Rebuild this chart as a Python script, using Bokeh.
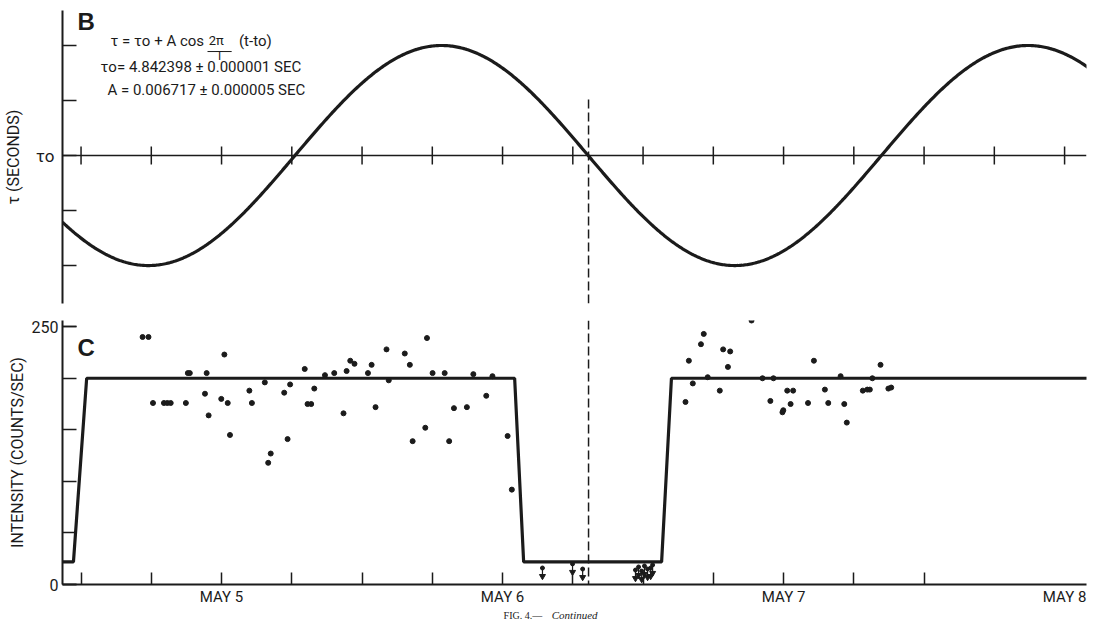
import numpy as np
from bokeh.plotting import figure
from bokeh.layouts import column
from bokeh.models import (Range1d, LinearAxis, FixedTicker, Span, Label,
                          CustomJSTickFormatter)
from bokeh.embed import file_html
from bokeh.resources import INLINE

# ---------------- data ----------------
day_ticks = [5, 6, 7, 8]
day_labels = ["MAY 5", "MAY 6", "MAY 7", "MAY 8"]
top_quarter_ticks = [4.5, 4.75, 5.0, 5.25, 5.5, 5.75, 6.0, 6.25, 6.5, 6.75,
                     7.0, 7.25, 7.5, 7.75, 8.0]
bottom_quarter_ticks = [4.5, 4.75, 5.0, 5.25, 5.5, 5.75, 6.0, 6.25, 6.5, 6.75,
                        7.0, 7.25, 7.5]
intensity_ticks = [0, 250]
intensity_minor_ticks = [0, 50, 100, 150, 200, 250]

tau0 = 4.842398          # s
tau0_err = 0.000001
amp = 0.006717           # s
amp_err = 0.000005
period = 2.087           # days
t_max = 5.783            # day of maximum delay (t0)
t_mid_eclipse = 6.306    # dashed line

step_t = [4.434, 4.473, 4.520, 6.043, 6.075, 6.566, 6.601, 8.2]
step_i = [22, 22, 200, 200, 22, 22, 200, 200]

obs_t = [4.719, 4.740, 4.756, 4.795, 4.807, 4.819, 4.873, 4.880, 4.887, 4.941,
         4.947, 4.954, 4.999, 5.010, 5.022, 5.030, 5.099, 5.108, 5.154, 5.166,
         5.175, 5.223, 5.235, 5.244, 5.296, 5.306, 5.319, 5.330, 5.368, 5.401,
         5.434, 5.445, 5.458, 5.473, 5.521, 5.534, 5.548, 5.587, 5.595, 5.652,
         5.670, 5.680, 5.725, 5.731, 5.751, 5.794, 5.810, 5.827, 5.873, 5.896,
         5.942, 5.964, 6.018, 6.033,
         6.651, 6.663, 6.677, 6.706, 6.716, 6.730, 6.773, 6.785, 6.802, 6.810,
         6.848, 6.886, 6.925, 6.953, 6.964, 6.996, 6.999, 7.013, 7.025, 7.034,
         7.087, 7.108, 7.147, 7.159, 7.203, 7.216, 7.225, 7.282, 7.298, 7.307,
         7.316, 7.345, 7.373, 7.383]
obs_i = [240, 240, 176, 176, 176, 176, 176, 205, 205, 185,
         205, 164, 180, 223, 176, 145, 188, 176, 196, 118,
         127, 186, 141, 194, 209, 175, 175, 190, 203, 205,
         166, 207, 217, 214, 205, 213, 172, 228, 198, 224,
         213, 139, 152, 239, 205, 205, 139, 171, 172, 204,
         183, 202, 144, 92,
         177, 217, 195, 233, 243, 201, 188, 228, 211, 226,
         263, 256, 200, 178, 200, 167, 169, 188, 175, 188,
         176, 217, 189, 176, 202, 175, 157, 188, 189, 189,
         200, 213, 190, 191]

ul_t = [6.142, 6.249, 6.285, 6.473, 6.484, 6.495, 6.505, 6.516, 6.527, 6.534]
ul_i = [16, 20, 15, 14, 17, 13, 18, 15, 16, 19]

# ---------------- styling ----------------
INK = "#1b1b1b"
FONT = "Roboto"
x_start, x_end = 4.434, 8.078
W = 1094
LB, RB = 54, 8

# ---------------- top panel (B) ----------------
top = figure(width=W, height=313,
             x_range=Range1d(x_start, x_end),
             y_range=Range1d(-1.345 * amp, 1.318 * amp),
             x_axis_type=None, y_axis_type=None,
             toolbar_location=None, output_backend="svg",
             min_border_left=LB, min_border_right=RB,
             min_border_top=10, min_border_bottom=10)
top.outline_line_color = None

ly = LinearAxis(ticker=FixedTicker(ticks=[-amp, -amp / 2, 0, amp / 2, amp]),
                axis_label="τ (SECONDS)")
ly.formatter = CustomJSTickFormatter(code="return Math.abs(tick) < 1e-12 ? 'τo' : ''")
ly.axis_line_color = INK
ly.axis_line_width = 2
ly.major_tick_line_color = INK
ly.major_tick_line_width = 1.5
ly.major_tick_in = 14
ly.major_tick_out = 0
ly.minor_tick_line_color = None
ly.major_label_text_font = FONT
ly.major_label_text_font_size = "17px"
ly.major_label_text_color = INK
ly.major_label_standoff = 8
ly.axis_label_text_font = FONT
ly.axis_label_text_font_size = "16px"
ly.axis_label_text_font_style = "normal"
ly.axis_label_text_color = INK
ly.axis_label_standoff = 10
top.add_layout(ly, "left")

# horizontal tau0 reference line with its quarter-day ticks
top.add_layout(Span(location=0, dimension="width", line_color=INK, line_width=1.5))
top.scatter(top_quarter_ticks, [0] * len(top_quarter_ticks), marker="dash",
            angle=np.pi / 2, size=18, line_color=INK, line_width=1.5)

t_curve = np.linspace(x_start, x_end + 0.05, 800)
dtau_curve = amp * np.cos(2 * np.pi / period * (t_curve - t_max))
top.line(t_curve, dtau_curve, line_color=INK, line_width=3.2)

top.segment(x0=[t_mid_eclipse], y0=[-1.345 * amp], x1=[t_mid_eclipse], y1=[0.53 * amp],
            line_color=INK, line_width=1.5, line_dash="9 4")

top.add_layout(Label(x=4.4875, y=1.091 * amp, text="B", text_font="Liberation Sans",
                     text_font_size="24px", text_font_style="bold", text_color=INK))
top.add_layout(Label(x=4.605, y=0.959 * amp, text="τ = τo + A cos", text_font=FONT,
                     text_font_size="15px", text_color=INK))
top.add_layout(Label(x=4.954, y=0.975 * amp, text="2π", text_font=FONT,
                     text_font_size="13px", text_color=INK))
top.segment(x0=[4.950], y0=[0.945 * amp], x1=[5.036], y1=[0.945 * amp],
            line_color=INK, line_width=1)
top.add_layout(Label(x=4.993, y=0.84 * amp, text="T", text_font=FONT, text_align="center",
                     text_font_size="12px", text_color=INK))
top.add_layout(Label(x=5.062, y=0.959 * amp, text="(t-to)", text_font=FONT,
                     text_font_size="15px", text_color=INK))
top.add_layout(Label(x=4.5694, y=0.727 * amp,
                     text=f"τo= {tau0:.6f} ± {tau0_err:.6f} SEC", text_font=FONT,
                     text_font_size="15px", text_color=INK))
top.add_layout(Label(x=4.594, y=0.515 * amp,
                     text=f"A = {amp:.6f} ± {amp_err:.6f} SEC", text_font=FONT,
                     text_font_size="15px", text_color=INK))

# ---------------- bottom panel (C) ----------------
bot = figure(width=W, height=295,
             x_range=top.x_range, y_range=Range1d(0, 256),
             x_axis_type=None, y_axis_type=None,
             toolbar_location=None, output_backend="svg",
             min_border_left=LB, min_border_right=RB,
             min_border_top=7, min_border_bottom=19)
bot.outline_line_color = None

by = LinearAxis(ticker=FixedTicker(ticks=intensity_ticks, minor_ticks=intensity_minor_ticks),
                axis_label="INTENSITY (COUNTS/SEC)")
by.axis_line_color = INK
by.axis_line_width = 2
by.major_tick_line_color = INK
by.major_tick_line_width = 1.5
by.major_tick_in = 14
by.major_tick_out = 0
by.minor_tick_line_color = INK
by.minor_tick_line_width = 1.5
by.minor_tick_in = 14
by.minor_tick_out = 0
by.major_label_text_font = FONT
by.major_label_text_font_size = "16px"
by.major_label_text_color = INK
by.major_label_standoff = 4
by.axis_label_text_font = FONT
by.axis_label_text_font_size = "16px"
by.axis_label_text_font_style = "normal"
by.axis_label_text_color = INK
by.axis_label_standoff = 2
bot.add_layout(by, "left")

bx = LinearAxis(ticker=FixedTicker(ticks=day_ticks, minor_ticks=bottom_quarter_ticks))
bx.formatter = CustomJSTickFormatter(args=dict(t=day_ticks, lab=day_labels),
                                     code="const i = t.indexOf(tick); return i >= 0 ? lab[i] : '';")
bx.axis_line_color = INK
bx.axis_line_width = 2
bx.major_tick_line_color = None
bx.major_tick_in = 0
bx.major_tick_out = 0
bx.minor_tick_line_color = INK
bx.minor_tick_line_width = 1.5
bx.minor_tick_in = 12
bx.minor_tick_out = 0
bx.major_label_text_font = FONT
bx.major_label_text_font_size = "15px"
bx.major_label_text_color = INK
bx.major_label_standoff = 3
bot.add_layout(bx, "below")

bot.add_layout(Span(location=t_mid_eclipse, dimension="height", line_color=INK,
                    line_width=1.5, line_dash="9 4"))

bot.line(step_t, step_i, line_color=INK, line_width=3.2)
bot.scatter(obs_t, obs_i, size=5, marker="circle", color=INK)

ul_tip = [v - 8 for v in ul_i]
bot.segment(x0=ul_t, y0=ul_i, x1=ul_t, y1=ul_tip, line_color=INK, line_width=1.2)
bot.scatter(ul_t, ul_i, size=4, marker="circle", color=INK)
bot.scatter(ul_t, ul_tip, size=6, marker="inverted_triangle", color=INK)

bot.add_layout(Label(x=4.4875, y=216.6, text="C", text_font="Liberation Sans",
                     text_font_size="24px", text_font_style="bold", text_color=INK))

# ---------------- caption strip ----------------
cap = figure(width=W, height=13, x_range=top.x_range, y_range=Range1d(0, 1),
             x_axis_type=None, y_axis_type=None,
             toolbar_location=None, output_backend="svg",
             min_border_left=LB, min_border_right=RB,
             min_border_top=0, min_border_bottom=0)
cap.outline_line_color = None
cap.add_layout(Label(x=6.0036, y=0.5, text="FIG. 4.—", text_font="Liberation Serif",
                     text_font_size="10px", text_baseline="middle", text_color=INK))
cap.add_layout(Label(x=6.175, y=0.5, text="Continued", text_font="Liberation Serif",
                     text_font_size="11px", text_font_style="italic",
                     text_baseline="middle", text_color=INK))

layout = column(top, bot, cap)
open("out.html", "w").write(file_html(layout, INLINE))
